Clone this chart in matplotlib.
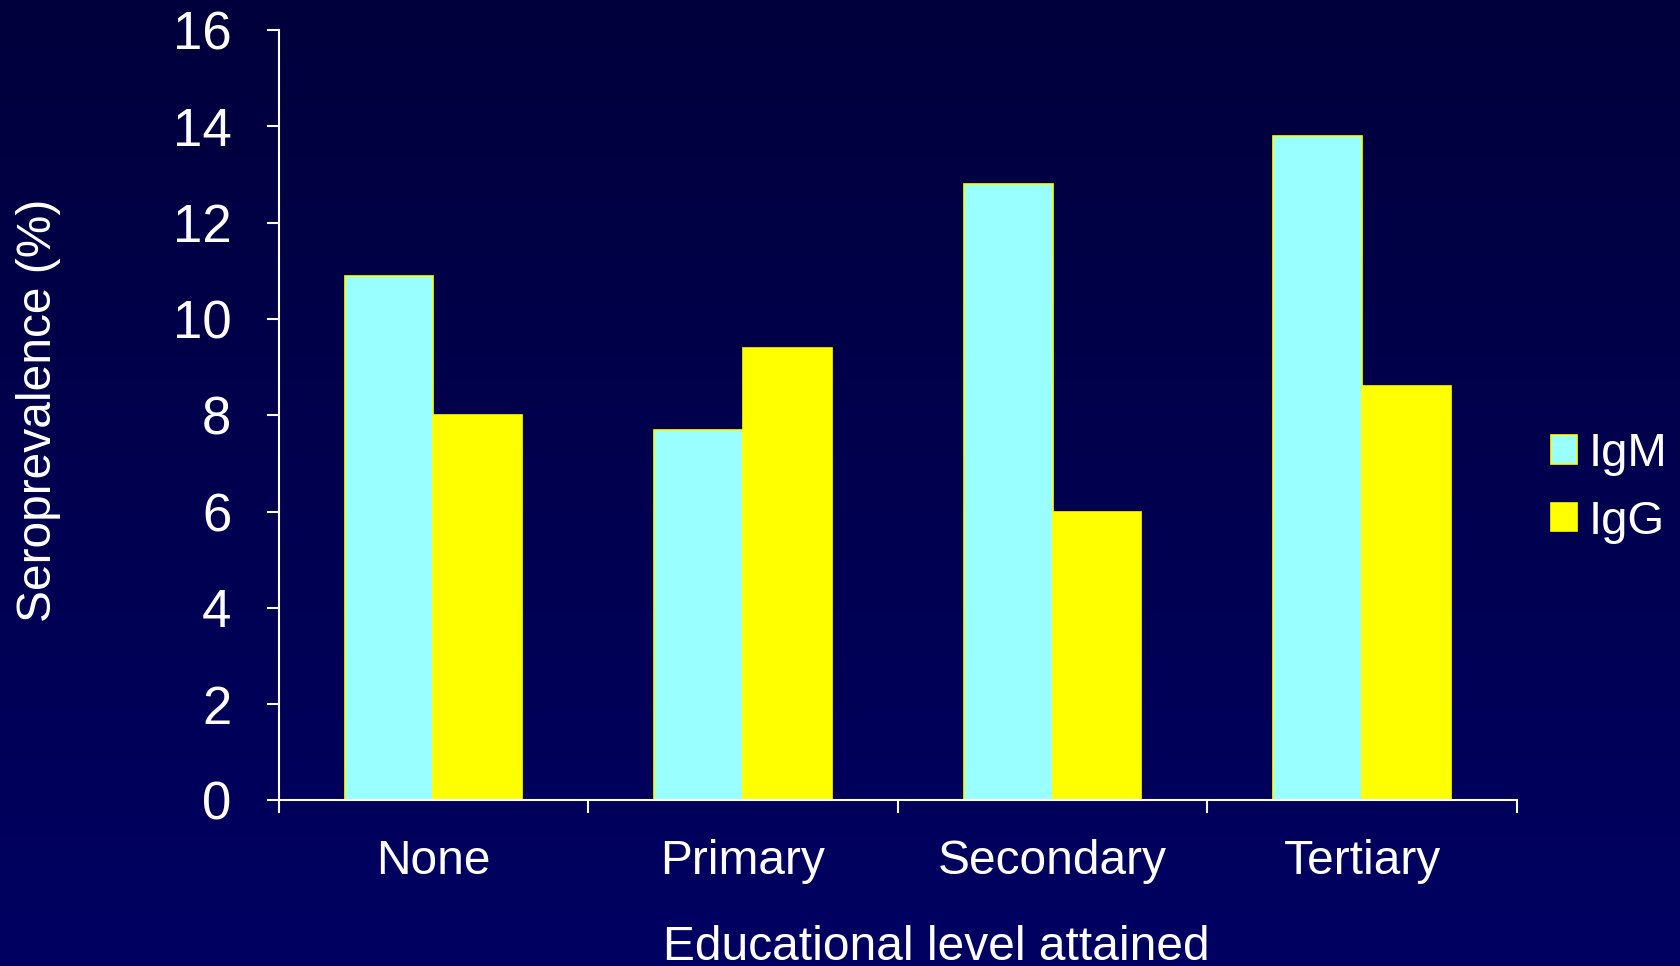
import numpy as np
import matplotlib
matplotlib.use("Agg")
import matplotlib.pyplot as plt
from matplotlib.patches import Patch
from matplotlib.colors import LinearSegmentedColormap

plt.rcParams['font.family'] = ['Liberation Sans', 'DejaVu Sans']

categories = ["None", "Primary", "Secondary", "Tertiary"]
igm = [10.9, 7.7, 12.8, 13.8]
igg = [8.0, 9.4, 6.0, 8.6]
y_ticks = [0, 2, 4, 6, 8, 10, 12, 14, 16]

W, H, DPI = 1680, 966, 100
fig = plt.figure(figsize=(W / DPI, H / DPI), dpi=DPI)

# vertical navy gradient background
bg = fig.add_axes([0, 0, 1, 1], zorder=-10)
grad = np.linspace(0, 1, 256).reshape(-1, 1)
cmap = LinearSegmentedColormap.from_list("navy", ["#00003C", "#000062"])
bg.imshow(grad, aspect="auto", cmap=cmap, extent=[0, 1, 0, 1], origin="upper")
bg.set_axis_off()

ax = fig.add_axes([278.6 / W, 165.6 / H, (1517 - 278.6) / W, (936 - 165.6) / H])
ax.patch.set_alpha(0)

x = np.arange(len(categories))
bw = 0.287
ax.bar(x - bw / 2, igm, width=bw, color="#99FFFF", edgecolor="#FFFF00", linewidth=1.2, label="IgM", zorder=2)
ax.bar(x + bw / 2, igg, width=bw, color="#FFFF00", edgecolor="#FFFF00", linewidth=1.2, label="IgG", zorder=2)

ax.set_xlim(-0.5, len(categories) - 0.5)
ax.set_ylim(0, 16)
ax.set_yticks(y_ticks)
ax.set_yticklabels([str(t) for t in y_ticks])

ax.set_xticks(x)
ax.set_xticklabels(categories)
ax.set_xticks(np.arange(-0.5, len(categories)), minor=True)

for s in ["top", "right"]:
    ax.spines[s].set_visible(False)
for s in ["left", "bottom"]:
    ax.spines[s].set_color("white")
    ax.spines[s].set_linewidth(1.5)

ax.tick_params(axis="y", direction="out", length=9, width=1.5, colors="white",
               labelsize=38, pad=25)
ax.tick_params(axis="x", which="major", length=0, labelsize=34.5, pad=28, colors="white")
ax.tick_params(axis="x", which="minor", direction="out", length=9, width=1.5, colors="white")

fig.text(936 / W, 6 / H, "Educational level attained", color="white", fontsize=34.5,
         ha="center", va="baseline")
fig.text(38.5 / W, (H - 410) / H, "Seroprevalence (%)", color="white", fontsize=34.5,
         ha="center", va="center", rotation=90)

handles = [Patch(facecolor="#99FFFF", edgecolor="#FFFF00", linewidth=1.2, label="IgM"),
           Patch(facecolor="#FFFF00", edgecolor="#FFFF00", linewidth=1.2, label="IgG")]
fig.legend(handles=handles, loc="center left", bbox_to_anchor=(1551 / W, (H - 488) / H),
           frameon=False, fontsize=34, labelcolor="white", handlelength=0.55,
           handleheight=0.55, handletextpad=0.25, labelspacing=0.49,
           borderpad=0, borderaxespad=0)

fig.savefig("out.png", dpi=DPI)
